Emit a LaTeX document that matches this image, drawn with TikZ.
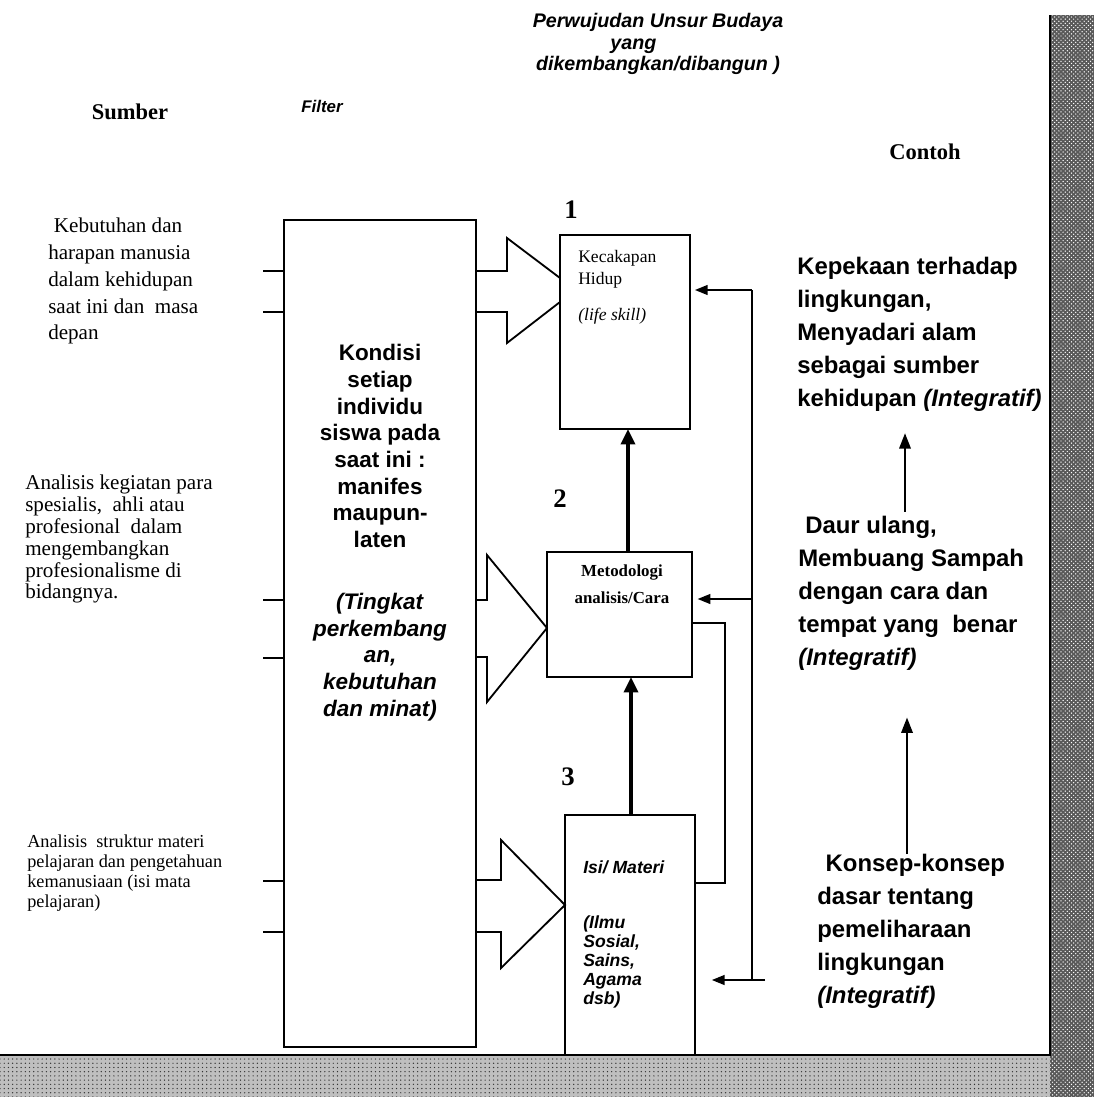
\documentclass[tikz,border=0pt]{standalone}
\usepackage{fontspec}
\setmainfont{Liberation Serif}
\setsansfont{Liberation Sans}
\usetikzlibrary{arrows.meta,patterns}

\begin{document}
\begin{tikzpicture}[x=0.025cm,y=-0.025cm]
    \tikzstyle{kotak}=[draw, line width=1.4pt, inner sep=0pt, outer sep=0pt]
    \tikzstyle{src}=[align=left, anchor=north west, inner sep=0pt]
    \tikzstyle{eg}=[align=left, anchor=north west, inner sep=0pt, font=\sffamily\bfseries\fontsize{17}{23.5}\selectfont]
    \tikzstyle{fat}=[line width=1.3pt, line join=miter]
    \tikzstyle{fb}=[line width=1.1pt]
    \tikzstyle{naik}=[line width=2.4pt, -{Triangle[length=11pt,width=10pt]}]
    \tikzstyle{keluar}=[fb, -{Triangle[length=9pt,width=7pt]}]
    \tikzstyle{nomor}=[font=\bfseries\fontsize{19}{22}\selectfont]

    \useasboundingbox (0,0) rectangle (1094,1097);

    \fill[black!65] (1050,15) rectangle (1094,1097);
    \fill[pattern=crosshatch dots, pattern color=white] (1050,15) rectangle (1094,1097);
    \fill[black!25] (0,1055) rectangle (1050,1097);
    \fill[pattern=dots, pattern color=black!80] (0,1055) rectangle (1050,1097);
    \draw[line width=1pt] (0,1055) -- (1050,1055) -- (1050,15);

    \node[align=center, font=\sffamily\bfseries\itshape\fontsize{14}{15.5}\selectfont] (judul) at (658,44)
        {Perwujudan Unsur Budaya\\yang\rule{35pt}{0pt}\\dikembangkan/dibangun )};
    \node[font=\bfseries\fontsize{16}{19}\selectfont] (sumber) at (130,112) {Sumber};
    \node[font=\sffamily\bfseries\itshape\fontsize{12}{14}\selectfont] (filter) at (322,106) {Filter};
    \node[font=\bfseries\fontsize{16}{19}\selectfont] (contoh) at (925,152) {Contoh};

    \node[kotak, minimum width=4.8cm, minimum height=20.675cm] (filt) at (380,633.5) {};
    \node[kotak, minimum width=3.25cm, minimum height=4.85cm] (hidup) at (625,332) {};
    \node[kotak, minimum width=3.625cm, minimum height=3.125cm] (cara) at (619.5,614.5) {};
    \node[kotak, minimum width=3.25cm, minimum height=6cm] (materi) at (630,935) {};

    \node[nomor] (nomor1) at (571,210) {1};
    \node[nomor] (nomor2) at (560,499) {2};
    \node[nomor] (nomor3) at (568,777) {3};

    \node[anchor=north, align=center, inner sep=0pt, font=\sffamily\bfseries\fontsize{16}{19}\selectfont] (filttxt) at (380,344)
        {Kondisi\\setiap\\individu\\siswa pada\\saat ini :\\manifes\\maupun-\\laten\\[25pt]
         \textit{(Tingkat}\\\textit{perkembang}\\\textit{an,}\\\textit{kebutuhan}\\\textit{dan minat)}};
    \node[src, font=\fontsize{12.5}{15.6}\selectfont] (hiduptxt) at (578,250)
        {Kecakapan\\Hidup\\[10pt]\textit{(life skill)}};
    \node[anchor=north, align=center, inner sep=0pt, font=\bfseries\fontsize{12}{18.5}\selectfont] (caratxt) at (622,565)
        {Metodologi\\analisis/Cara};
    \node[src, font=\sffamily\bfseries\itshape\fontsize{12.5}{13.5}\selectfont] (materitxt) at (583,860)
        {Isi/ Materi\\[26pt](Ilmu\\Sosial,\\Sains,\\Agama\\dsb)};

    \node[src, font=\fontsize{15}{19}\selectfont] (srcA) at (48,218)
        {\hspace*{4pt}Kebutuhan dan\\harapan manusia\\dalam kehidupan\\saat ini dan\ \ masa\\depan};
    \node[src, font=\fontsize{15}{15.5}\selectfont] (srcB) at (25,475)
        {Analisis kegiatan para\\spesialis,\ \ ahli atau\\profesional\ \ dalam\\mengembangkan\\profesionalisme di\\bidangnya.};
    \node[src, font=\fontsize{13}{14.2}\selectfont] (srcC) at (27,835)
        {Analisis\ \ struktur materi\\pelajaran dan pengetahuan\\kemanusiaan (isi mata\\pelajaran)};

    \node[eg] (egA) at (797,257) {Kepekaan terhadap\\lingkungan,\\Menyadari alam\\sebagai sumber\\kehidupan \textit{(Integratif)}};
    \node[eg] (egB) at (798,516) {\hspace*{5pt}Daur ulang,\\Membuang Sampah\\dengan cara dan\\tempat yang\ \ benar\\\textit{(Integratif)}};
    \node[eg] (egC) at (817,854) {\hspace*{6pt}Konsep-konsep\\dasar tentang\\pemeliharaan\\lingkungan\\\textit{(Integratif)}};

    \draw[fb] (filt.west |- 0,271) -- ++(-21,0)
              (filt.west |- 0,312) -- ++(-21,0)
              (filt.west |- 0,600) -- ++(-21,0)
              (filt.west |- 0,658) -- ++(-21,0)
              (filt.west |- 0,881) -- ++(-21,0)
              (filt.west |- 0,932) -- ++(-21,0);

    \draw[fat] (filt.east |- 0,271) -- (507,271) -- (507,238) -- (hidup.west |- 0,278)
               (hidup.west |- 0,302) -- (507,343) -- (507,312) -- (filt.east |- 0,312);
    \draw[fat] (filt.east |- 0,600) -- (487,600) -- (487,555) -- (cara.west |- 0,628)
               -- (487,702) -- (487,657) -- (filt.east |- 0,657);
    \draw[fat] (filt.east |- 0,880) -- (501,880) -- (501,840) -- (materi.west |- 0,905)
               -- (501,968) -- (501,932) -- (filt.east |- 0,932);

    \draw[naik] (materi.north -| 631,0) -- (cara.south -| 631,0);
    \draw[naik] (cara.north -| 628,0) -- (hidup.south -| 628,0);

    \coordinate (fbA) at (752,290);
    \coordinate (fbB) at (752,599);
    \coordinate (fbC) at (765,980);
    \coordinate (siku) at (725,883);
    \draw[fb] (fbA) -- (fbA |- fbC);
    \draw[keluar, shorten >=3.5pt] (fbA) -- (hidup.east |- fbA);
    \draw[keluar, shorten >=4pt] (fbB) -- (cara.east |- fbB);
    \draw[keluar, shorten >=12pt] (fbC) -- (materi.east |- fbC);
    \draw[fb] (cara.east |- 0,623) -| (siku) -- (materi.east |- siku);

    \draw[line width=1.8pt, -{Triangle[length=11pt,width=8pt]}, shorten <=3pt, shorten >=15pt]
        (egB.north -| 905,0) -- (egA.south -| 905,0);
    \draw[line width=1.8pt, -{Triangle[length=11pt,width=8pt]}, shorten >=33pt]
        (egC.north -| 907,0) -- (egB.south -| 907,0);

\end{tikzpicture}
\end{document}
